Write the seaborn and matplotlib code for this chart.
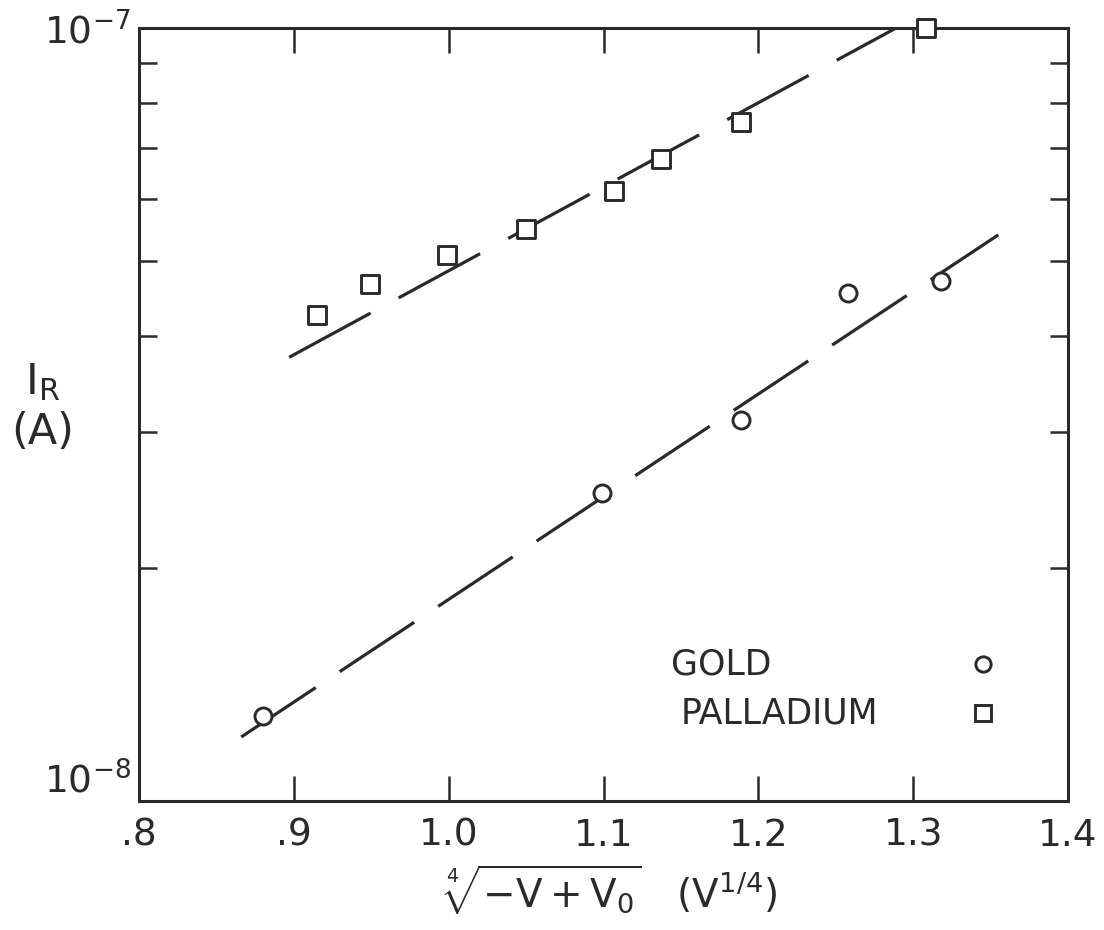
import numpy as np
import pandas as pd
import matplotlib
matplotlib.use("Agg")
import matplotlib.pyplot as plt
import seaborn as sns
from matplotlib import font_manager as fm
from matplotlib.ticker import FixedLocator, NullFormatter

# ---------------- data ----------------
gold_x = [0.880, 1.099, 1.189, 1.258, 1.318]
gold_y = [1.29e-8, 2.50e-8, 3.11e-8, 4.54e-8, 4.71e-8]

pd_x = [0.915, 0.949, 0.999, 1.050, 1.107, 1.137, 1.189, 1.308]
pd_y = [4.25e-8, 4.67e-8, 5.08e-8, 5.50e-8, 6.15e-8, 6.77e-8, 7.56e-8, 1.00e-7]

# fitted (dashed) lines: endpoints
gold_fit_x = [0.866, 1.355]
gold_fit_y = [1.21e-8, 5.40e-8]
pd_fit_x = [0.897, 1.289]
pd_fit_y = [3.75e-8, 1.00e-7]

x_ticks = [0.8, 0.9, 1.0, 1.1, 1.2, 1.3, 1.4]
x_tick_labels = [".8", ".9", "1.0", "1.1", "1.2", "1.3", "1.4"]
y_ticks = [1e-8, 1e-7]
y_tick_labels = [r"$10^{-8}$", r"$10^{-7}$"]
y_minor = [k * 1e-8 for k in range(2, 10)]

legend_labels = ["GOLD", "PALLADIUM"]

# ---------------- style ----------------
sns.set_theme(style="white")
avail = {f.name for f in fm.fontManager.ttflist}
fam = "Liberation Sans Narrow" if "Liberation Sans Narrow" in avail else "DejaVu Sans"
plt.rcParams["font.family"] = [fam, "DejaVu Sans"]
plt.rcParams["mathtext.fontset"] = "custom"
plt.rcParams["mathtext.rm"] = fam
plt.rcParams["mathtext.it"] = fam
plt.rcParams["mathtext.default"] = "rm"

INK = "#2a2a2a"

fig = plt.figure(figsize=(11.04, 9.30), dpi=100)
ax = fig.add_axes([0.1259, 0.1387, 0.8415, 0.8312])

gold_df = pd.DataFrame({"x": gold_x, "y": gold_y})
pd_df = pd.DataFrame({"x": pd_x, "y": pd_y})
gfit = pd.DataFrame({"x": gold_fit_x, "y": gold_fit_y})
pfit = pd.DataFrame({"x": pd_fit_x, "y": pd_fit_y})

ax.set_yscale("log")
ax.set_xlim(0.8, 1.4)
ax.set_ylim(1e-8, 1e-7)

for d, dash in ((gfit, [28, 9]), (pfit, [29, 10])):
    sns.lineplot(data=d, x="x", y="y", ax=ax, color=INK, lw=2.3,
                 dashes=False, legend=False).lines[-1].set_dashes(dash)

sns.scatterplot(data=gold_df, x="x", y="y", ax=ax, marker="o", s=150,
                facecolor="white", edgecolor=INK, linewidth=2.1, zorder=3)
sns.scatterplot(data=pd_df, x="x", y="y", ax=ax, marker="s", s=160,
                facecolor="white", edgecolor=INK, linewidth=2.1, zorder=3,
                clip_on=False)

# axes styling
for sp in ax.spines.values():
    sp.set_linewidth(2.2)
    sp.set_color(INK)

ax.set_xticks(x_ticks)
ax.set_xticklabels(x_tick_labels)
ax.yaxis.set_major_locator(FixedLocator(y_ticks))
ax.set_yticklabels(y_tick_labels)
ax.yaxis.set_minor_locator(FixedLocator(y_minor))
ax.yaxis.set_minor_formatter(NullFormatter())

ax.tick_params(axis="x", which="major", direction="in", length=18, width=1.8,
               color=INK, top=True, bottom=True, labelsize=27, pad=12,
               labelcolor=INK)
ax.tick_params(axis="y", which="major", direction="in", length=0, width=1.8,
               labelsize=27, pad=6, labelcolor=INK, left=True, right=True)
ax.tick_params(axis="y", which="minor", direction="in", length=13, width=1.8,
               color=INK, left=True, right=True)
for lbl in ax.get_yticklabels():
    if "-8" in lbl.get_text():
        lbl.set_va("bottom")

ax.set_xlabel(r"$\sqrt[4]{-V+V_0}$   $(V^{1/4})$", fontsize=28, color=INK)
ax.xaxis.set_label_coords(0.507, -0.08)
ax.set_ylabel(r"$\mathrm{I_R}$" + "\n(A)", fontsize=31, color=INK,
              rotation=0, ha="center", va="center", linespacing=1.25)
ax.yaxis.set_label_coords(-0.104, 0.51)

# legend (text left aligned, markers to the right)
ax.text(0.573, 0.176, legend_labels[0], transform=ax.transAxes, fontsize=25,
        color=INK, va="center", ha="left")
ax.text(0.583, 0.113, legend_labels[1], transform=ax.transAxes, fontsize=25,
        color=INK, va="center", ha="left")
ax.plot([0.908], [0.177], transform=ax.transAxes, marker="o", ms=11,
        mfc="white", mec=INK, mew=2.1, ls="none")
ax.plot([0.908], [0.114], transform=ax.transAxes, marker="s", ms=11,
        mfc="white", mec=INK, mew=2.1, ls="none")

fig.savefig("out.png", dpi=100, facecolor="white")
